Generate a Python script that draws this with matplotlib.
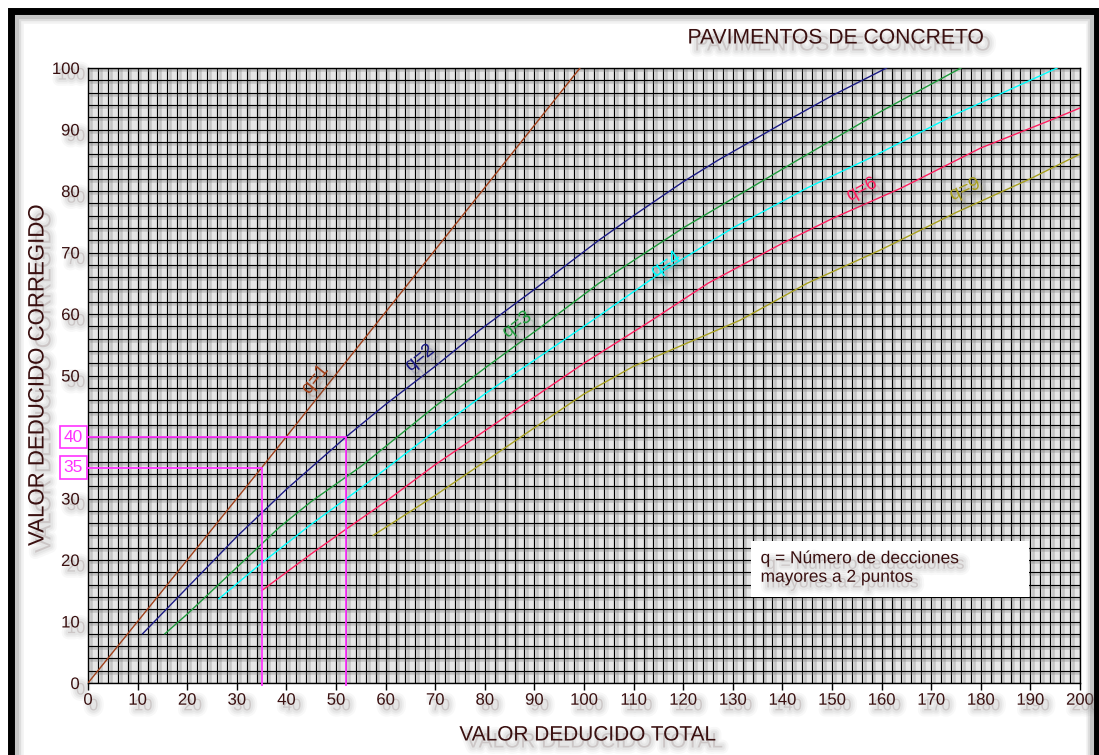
import matplotlib
matplotlib.use("Agg")
import matplotlib.pyplot as plt
import matplotlib.patheffects as pe
from matplotlib.patches import Rectangle

# ---- curve data (total deduct value -> corrected deduct value) ----
q1_x = [0, 35, 99.2]
q1_y = [0, 35, 100]

q2_x = [11, 20, 30, 40, 52, 60, 70, 79, 90, 103, 110, 120, 127, 140, 150, 161]
q2_y = [8, 15.5, 23.8, 31.5, 40, 45.3, 51.5, 57.4, 64, 72, 76, 81.5, 85, 91, 95.5, 100]

q3_x = [15.5, 20, 30, 38.7, 45, 55, 70, 80, 90.5, 103, 120, 143, 160, 176]
q3_y = [8, 11.2, 18.8, 25.4, 29.5, 35.2, 45, 51.2, 57.4, 65, 74, 85, 93, 100]

q4_x = [26.4, 35, 45, 55, 70, 80, 90, 100, 116, 130, 145, 158, 175, 195.4]
q4_y = [13.7, 19.5, 25.8, 31.7, 41, 47, 52.5, 58, 67, 74, 80.5, 85.5, 92.5, 100]

q6_x = [35, 45, 52, 60, 70, 80, 90, 100, 113.7, 125, 140, 150, 164, 180, 194, 200]
q6_y = [15, 21, 25, 29.5, 35.5, 41, 46.5, 52, 59, 65, 71.5, 75.5, 80.5, 87, 91.5, 93.5]

q9_x = [57.5, 70, 80, 90, 100, 110, 120, 131.5, 145, 160, 175, 190, 200]
q9_y = [24, 30.5, 36, 41.5, 47, 51.5, 55, 59, 65, 70.5, 76.5, 82, 86]

curve_labels = ["q=1", "q=2", "q=3", "q=4", "q=6", "q=9"]
label_x = [45.8, 66.9, 86.5, 116.5, 156, 176.8]
label_y = [49.3, 52.8, 58.2, 68, 80.2, 80.2]
label_rot = [51, 39, 38, 34, 28, 25]
colors = ["#a0401a", "#1c1c85", "#1f9a3c", "#00ffff", "#ff2060", "#a8a020"]

# worked example readings
ex_tdv = [35, 52]
ex_cdv = [35, 40]

x_ticks = list(range(0, 201, 10))
y_ticks = list(range(0, 101, 10))
y_ticklabels = ["" if v == 40 else str(v) for v in y_ticks]

TXT = "#3a1010"
plt.rcParams['font.family'] = ['Liberation Sans', 'DejaVu Sans']

W, H = 1099, 755
fig = plt.figure(figsize=(W / 100, H / 100), dpi=100)
fig.patch.set_facecolor("white")

# outer frame with a soft inner shade
for lw, a in [(9, 0.10), (6, 0.18), (3, 0.25)]:
    fig.add_artist(Rectangle((17 / W, -0.02), (1092 - 17) / W, (H - 17) / H + 0.02,
                             transform=fig.transFigure, fill=False,
                             edgecolor="#808080", alpha=a, linewidth=lw))
fig.add_artist(Rectangle((11 / W, -0.02), (1097 - 11) / W, (H - 11) / H + 0.02,
                         transform=fig.transFigure, fill=False,
                         edgecolor="black", linewidth=5))

ax = fig.add_axes([88 / W, (H - 683) / H, (1080 - 88) / W, (683 - 68) / H])
ax.set_facecolor("#e6e6e6")
ax.set_xlim(0, 200)
ax.set_ylim(0, 100)

shadow_line = [pe.SimpleLineShadow(offset=(2, -1.5), shadow_color="#7a7a7a", alpha=0.32, linewidth=1.8),
               pe.Normal()]
for gx in range(0, 201, 2):
    ax.axvline(gx, color="black", lw=0.85, zorder=1, path_effects=shadow_line)
for gy in range(0, 101, 2):
    ax.axhline(gy, color="black", lw=0.85, zorder=1, path_effects=shadow_line)

for s in ax.spines.values():
    s.set_color("black")
    s.set_linewidth(1)


def soft_shadow(off=4):
    # a few widening translucent grey strokes give a blurred drop shadow
    layers = [pe.Stroke(offset=(off, -off), linewidth=w, foreground="#505050", alpha=a)
              for w, a in [(9, 0.04), (6, 0.05), (3.5, 0.06)]]
    return layers + [pe.Normal()]


ax.set_xticks(x_ticks)
ax.set_yticks(y_ticks)
ax.set_yticklabels(y_ticklabels)
ax.tick_params(axis="x", length=5, width=1, color="black", labelsize=12, labelcolor=TXT, pad=2)
ax.tick_params(axis="y", length=0, labelsize=12, labelcolor=TXT, pad=6)
for lab in ax.get_xticklabels() + ax.get_yticklabels():
    lab.set_path_effects(soft_shadow(4))

series_x = [q1_x, q2_x, q3_x, q4_x, q6_x, q9_x]
series_y = [q1_y, q2_y, q3_y, q4_y, q6_y, q9_y]
for xs, ys, c in zip(series_x, series_y, colors):
    ax.plot(xs, ys, color=c, lw=1.0, zorder=3)

for t, lx, ly, r, c in zip(curve_labels, label_x, label_y, label_rot, colors):
    ax.text(lx, ly, t, color=c, fontsize=13.5, rotation=r, ha="center", va="center",
            rotation_mode="anchor", zorder=4, path_effects=soft_shadow(3))

# example reading lines
mag = "#ff33ff"
for tx, cy in zip(ex_tdv, ex_cdv):
    ax.plot([-0.2, tx, tx], [cy, cy, -0.4], color=mag, lw=1.3, zorder=3, clip_on=False)
    ax.text(-3.0, cy, str(cy), color=mag, fontsize=12.5, ha="center", va="center",
            clip_on=False, zorder=5,
            bbox=dict(boxstyle="square,pad=0.22", facecolor="none", edgecolor=mag, lw=1.2))

# note box
ax.add_patch(Rectangle((133.7, 14.0), 56.0, 9.1, facecolor="white", edgecolor="none", zorder=6))
ax.text(135.6, 18.7, "q = Número de decciones\nmayores a 2 puntos", color=TXT, fontsize=12.5,
        ha="left", va="center", linespacing=1.3, zorder=7, path_effects=soft_shadow(4))

fig.text(836 / W, 1 - 38 / H, "PAVIMENTOS DE CONCRETO", color=TXT, fontsize=15.2,
         ha="center", va="center", path_effects=soft_shadow(5))
fig.text(588 / W, 1 - 735 / H, "VALOR DEDUCIDO TOTAL", color=TXT, fontsize=15,
         ha="center", va="center", path_effects=soft_shadow(5))
fig.text(38 / W, 1 - 375 / H, "VALOR DEDUCIDO CORREGIDO", color=TXT, fontsize=16,
         ha="center", va="center", rotation=90, path_effects=soft_shadow(5))

fig.savefig("out.png", dpi=100)
